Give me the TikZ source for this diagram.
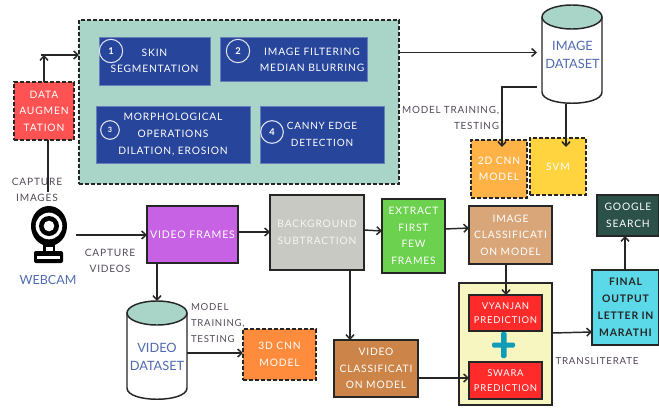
\documentclass[tikz,border=0pt]{standalone}
\usepackage{fontspec}
\setmainfont[LetterSpace=8]{Lato}
\newfontfamily\plainf{Lato}
\usetikzlibrary{arrows.meta,calc}
\definecolor{tealb}{HTML}{A9D5C9}
\definecolor{blueb}{HTML}{27459B}
\definecolor{labc}{HTML}{54485A}
\definecolor{dsc}{HTML}{4F6BB0}
\definecolor{linec}{HTML}{262626}
\definecolor{cred}{HTML}{FF5252}
\definecolor{corange}{HTML}{FFB347}
\definecolor{csvm}{HTML}{FFD43F}
\definecolor{cpurple}{HTML}{C762E5}
\definecolor{cgray}{HTML}{C9C9C4}
\definecolor{cgreen}{HTML}{6CD14E}
\definecolor{ctan}{HTML}{D9A679}
\definecolor{cdark}{HTML}{2B5148}
\definecolor{ccyan}{HTML}{5BD9E8}
\definecolor{cpanel}{HTML}{F8F6C0}
\definecolor{cbright}{HTML}{FF2A2A}
\definecolor{cbrown}{HTML}{CC8448}
\definecolor{cthree}{HTML}{FF8C3C}
\definecolor{cplus}{HTML}{0F9CB8}
\tikzset{
  x=0.75pt,y=-0.75pt,
  outer sep=0pt,
  conn/.style={line width=1.1pt,draw=linec,-{Straight Barb[length=3.2pt,width=6pt,line width=1.1pt]}},
  btext/.style={text=white,font=\fontsize{7.7}{12.4}\selectfont,align=center},
  blk/.style={draw=linec,line width=1.1pt},
  dbox/.style={draw=linec,line width=1.1pt,dash pattern=on 3pt off 1.5pt},
  opbox/.style={fill=blueb,btext,draw=blueb!70!white,line width=.4pt},
  circ/.style={circle,draw=white!85!blueb,line width=.8pt,text=white,font=\fontsize{7}{8}\selectfont\bfseries,inner sep=0pt},
  lab/.style={text=labc,font=\fontsize{7.4}{12}\selectfont,align=center,inner sep=0pt},
  labl/.style={lab,align=left},
  dslab/.style={text=dsc,font=\fontsize{9.6}{13.5}\selectfont\plainf,align=center,inner sep=0pt},
}
\newcommand\bx[7]{%
  \pgfmathsetmacro\bw{(#4-#2)*0.75}\pgfmathsetmacro\bh{(#5-#3)*0.75}%
  \node[#6,minimum width=\bw pt,minimum height=\bh pt,inner sep=0pt] (#1) at ({(#2+#4)/2},{(#3+#5)/2}) {#7};}
\newcommand\cyl[5]{% name, x1, y1, x2, y2
  \pgfmathsetmacro\cxm{(#2+#4)/2}\pgfmathsetmacro\rxx{(#4-#2)/2*0.75}%
  \pgfmathsetmacro\ytop{#3+12}\pgfmathsetmacro\ybot{#5-12}%
  \draw[blk,fill=white] (#2,\ytop) -- (#2,\ybot) .. controls (#2,{#5+3}) and (#4,{#5+3}) .. (#4,\ybot) -- (#4,\ytop);
  \draw[blk,fill=tealb] (\cxm,\ytop) ellipse [x radius=\rxx pt,y radius=9pt];
  \pgfmathsetmacro\bw{(#4-#2)*0.75}\pgfmathsetmacro\bh{(#5-#3)*0.75}%
  \node[minimum width=\bw pt,minimum height=\bh pt,inner sep=0pt] (#1) at (\cxm,{(#3+#5)/2}) {};
}
\begin{document}
\begin{tikzpicture}
\useasboundingbox (0,0) rectangle (659,407);
% big panel
\bx{panel}{79}{20}{399}{184}{dbox,fill=tealb}{}
\bx{op1}{99}{37}{210}{85}{opbox}{SKIN\\SEGMENTATION}
\bx{op2}{220}{37}{367}{81}{opbox}{}
\node[btext,inner sep=0pt] (op2t) at (312,60) {IMAGE FILTERING\\MEDIAN BLURRING};
\bx{op3}{96}{106}{250}{163}{opbox}{MORPHOLOGICAL\\OPERATIONS\\DILATION, EROSION}
\bx{op4}{260}{106}{384}{163}{opbox,font=\fontsize{7.5}{12.2}\selectfont}{CANNY EDGE\\DETECTION}
\node[circ,minimum size=17.5pt] (c1) at (111,51) {1};
\node[circ,minimum size=17.5pt] (c2) at (238,51) {2};
\node[circ,minimum size=14pt,font=\fontsize{5.5}{6}\selectfont\bfseries] (c3) at (110,130) {3};
\node[circ,minimum size=17pt] (c4) at (272,132) {4};
% boxes
\bx{aug}{14}{82}{74}{140}{dbox,fill=cred,btext}{DATA\\AUGMEN\\TATION}
\cyl{ids}{542}{5}{602}{104}
\node[dslab] (idst) at (572.5,55) {IMAGE\\DATASET};
\bx{cnn2}{471}{140}{527}{198}{dbox,fill=corange,btext}{2D CNN\\MODEL}
\bx{svm}{530}{138}{586}{195}{dbox,fill=csvm,btext}{SVM}
\bx{vf}{147}{206}{238}{263}{blk,fill=cpurple,btext,font=\fontsize{7.9}{12}\selectfont}{VIDEO FRAMES}
\bx{bg}{270}{195}{364}{270}{blk,fill=cgray,btext,text=white!82!cgray}{BACKGROUND\\SUBTRACTION}
\bx{ext}{382}{199}{445}{273}{blk,fill=cgreen,btext}{EXTRACT\\FIRST\\FEW\\FRAMES}
\bx{imc}{469}{206}{552}{264}{blk,fill=ctan,btext}{IMAGE\\CLASSIFICATI\\ON MODEL}
\bx{goo}{597}{195}{659}{236}{blk,fill=cdark,btext}{GOOGLE\\SEARCH}
\bx{fin}{592}{270}{659}{345}{blk,fill=ccyan,text=black!85,font=\fontsize{7.8}{12.8}\selectfont\bfseries,align=center}{FINAL\\OUTPUT\\LETTER IN\\MARATHI}
\bx{yel}{459}{283}{552}{405}{blk,fill=cpanel}{}
\bx{vya}{469}{295}{542}{331}{blk,line width=1.3pt,fill=cbright,btext,font=\fontsize{7.1}{10.8}\selectfont}{VYANJAN\\PREDICTION}
\bx{swa}{469}{362}{542}{399}{blk,line width=1.3pt,fill=cbright,btext,font=\fontsize{7.1}{10.8}\selectfont}{SWARA\\PREDICTION}
\fill[cplus,rounded corners=1pt] (492,342.5) rectangle (515,347.5);
\fill[cplus,rounded corners=1pt] (501,332) rectangle (506.5,358);
\bx{vcm}{334}{340}{418}{397}{blk,fill=cbrown,btext}{VIDEO\\CLASSIFICATI\\ON MODEL}
\bx{cnn3}{243}{329}{316}{380}{dbox,fill=cthree,btext}{3D CNN\\MODEL}
\cyl{vds}{127}{301}{187}{400}
\node[dslab] (vdst) at (157,357) {VIDEO\\DATASET};
% webcam
\coordinate (camc) at (49,226);
\fill[black] (camc) ellipse [x radius=13.5pt,y radius=15pt];
\fill[white] (camc) circle (10pt);
\fill[black] (camc) circle (7.5pt);
\fill[white] (camc) circle (4pt);
\fill[black] (43,244) rectangle (55,252);
\fill[white] (45.5,247) rectangle (52.5,252);
\fill[black,rounded corners=1.5pt] (34,251) rectangle (63,263);
\fill[white] (37,256) rectangle (60,259);
% labels
\node[lab,font=\fontsize{7.6}{12}\selectfont] (capi) at (37,190) {CAPTURE\\IMAGES};
\node[lab,font=\fontsize{7.6}{12}\selectfont] (capv) at (110,261) {CAPTURE\\VIDEOS};
\node[dslab,font=\fontsize{9.4}{10}\selectfont\plainf] (web) at (48,280) {WEBCAM};
\node[lab,align=right,anchor=east] (mt1) at (499,118) {MODEL TRAINING,\\TESTING};
\node[labl,anchor=west,font=\fontsize{7.2}{12.2}\selectfont] (mt2) at (191,323) {MODEL\\TRAINING,\\TESTING};
\node[lab,font=\fontsize{7.3}{8}\selectfont] (tr) at (597,361) {TRANSLITERATE};
% connectors
\coordinate (j1) at (44,55);
\coordinate (j0) at (41,55);
\coordinate (j2) at (502,87);
\coordinate (capw) at (76,235);
\coordinate (capend) at (48,192);
\coordinate (ids1) at (537,87);
\draw[conn] (aug.north -| j1) -- (j1);
\draw[conn] (j0) -- (panel.west |- j0);
\draw[blk] (aug.south -| capend) -- (capend);
\draw[conn] (panel.east |- 0,52.5) -- (537,52.5);
\draw[conn] (ids1) -- (j2) -- (j2 |- 0,147);
\draw[conn] (566,104) -- (566,147);
\draw[conn] (capw) -- (vf.west |- capw);
\draw[conn] (vf.east |- 0,232) -- (bg.west |- 0,232);
\draw[conn] (bg.east |- 0,230) -- (ext.west |- 0,231);
\draw[conn] (ext.east |- 0,229) -- (imc.west |- 0,228);
\draw[conn] (157,263) -- (vds.north);
\draw[conn] (vds.east |- 0,353) -- (cnn3.west |- 0,353);
\draw[conn] (350,270) -- (350,340);
\draw[conn] (506,264) -- (506,295);
\draw[conn] (vcm.east |- 0,378) -- (swa.west |- 0,378);
\draw[conn] (yel.east |- 0,333) -- (fin.west |- 0,332);
\draw[conn] (625,270) -- (625,236);
\end{tikzpicture}
\end{document}
